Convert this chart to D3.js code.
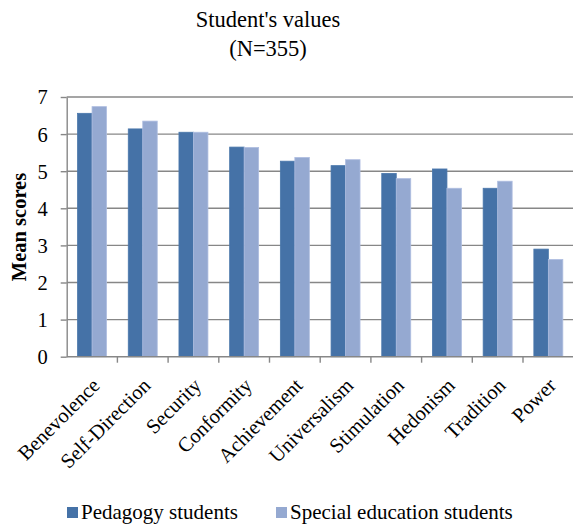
<!doctype html>
<html lang=en>
<head>
  <meta charset=utf-8>
  <title>Student's values</title>
  <style>
    html, body { margin: 0; padding: 0; background: #fff; }
    svg text { font-family: "Liberation Serif", "Times New Roman", serif; fill: #000; }
    .grid line { stroke: #878787; stroke-width: 1.4; }
    .axis path, .axis line { stroke: #878787; stroke-width: 1.4; }
    .axis text { font-size: 20.5px; }
  </style>
  <script src="https://cdn.jsdelivr.net/npm/d3@7"></script>
</head>
<body>
<svg id=chart width=573 height=525></svg>
<script>
  const categories = ['Benevolence', 'Self-Direction', 'Security', 'Conformity', 'Achievement',
    'Universalism', 'Stimulation', 'Hedonism', 'Tradition', 'Power']
  const pedagogy = [6.56, 6.14, 6.05, 5.65, 5.27, 5.15, 4.94, 5.06, 4.54, 2.90]
  const specialEducation = [6.74, 6.35, 6.05, 5.64, 5.37, 5.31, 4.80, 4.54, 4.73, 2.62]
  const seriesNames = ['Pedagogy students', 'Special education students']
  const yTicks = [0, 1, 2, 3, 4, 5, 6, 7]

  const colors = ['#4572a7', '#95a9d1']
  const plotLeft = 66.7, plotRight = 573.7, plotTop = 97, plotBottom = 356.7

  const svg = d3.select('#chart')

  const x = d3.scaleBand()
    .domain(categories)
    .range([plotLeft, plotRight])
  const inner = d3.scaleBand()
    .domain(seriesNames)
    .range([0, x.bandwidth()])
    .paddingInner(0)
    .paddingOuter(0.75)
  const y = d3.scaleLinear()
    .domain([0, 7])
    .range([plotBottom, plotTop])

  // gridlines
  svg.append('g')
    .attr('class', 'grid')
    .selectAll('line')
    .data(yTicks.slice(1))
    .enter()
    .append('line')
      .attr('x1', plotLeft)
      .attr('x2', plotRight)
      .attr('y1', d => y(d))
      .attr('y2', d => y(d))

  // bars
  const series = [pedagogy, specialEducation]
  series.forEach((values, i) => {
    svg.append('g')
      .selectAll('rect')
      .data(values)
      .enter()
      .append('rect')
        .attr('x', (d, j) => x(categories[j]) + inner(seriesNames[i]))
        .attr('width', inner.bandwidth())
        .attr('y', d => y(d))
        .attr('height', d => y(0) - y(d))
        .attr('fill', colors[i])
        .attr('stroke', i === 0 ? '#4a77ab' : '#aebde0')
        .attr('stroke-width', 0.8)
  })

  // y axis
  svg.append('g')
    .attr('class', 'axis')
    .attr('transform', 'translate(' + plotLeft + ',0)')
    .call(d3.axisLeft(y).tickValues(yTicks).tickFormat(d3.format('d')).tickSize(6).tickSizeOuter(0).tickPadding(13))
    .selectAll('text')
      .attr('dy', '0.34em')

  // x axis with ticks at category boundaries
  const gx = svg.append('g')
    .attr('class', 'axis')
    .attr('transform', 'translate(0,' + plotBottom + ')')
  gx.append('line')
    .attr('x1', plotLeft).attr('x2', plotRight)
  gx.selectAll('line.tick')
    .data(categories)
    .enter()
    .append('line')
      .attr('class', 'tick')
      .attr('x1', d => x(d) + x.bandwidth())
      .attr('x2', d => x(d) + x.bandwidth())
      .attr('y1', 0)
      .attr('y2', 6)
  gx.selectAll('text')
    .data(categories)
    .enter()
    .append('text')
      .attr('text-anchor', 'end')
      .attr('transform', d => 'translate(' + (x(d) + x.bandwidth() / 2 + 9) + ',30) rotate(-45)')
      .text(d => d)

  // y axis title
  svg.append('text')
    .attr('transform', 'translate(26,' + 227 + ') rotate(-90)')
    .attr('text-anchor', 'middle')
    .attr('font-size', 20.5)
    .attr('font-weight', 'bold')
    .text('Mean scores')

  // title
  svg.append('text')
    .attr('x', 268).attr('y', 27)
    .attr('text-anchor', 'middle')
    .attr('font-size', 22.5)
    .text("Student's values")
  svg.append('text')
    .attr('x', 268).attr('y', 56)
    .attr('text-anchor', 'middle')
    .attr('font-size', 22.5)
    .text('(N=355)')

  // legend
  const legendX = [67, 276]
  const legend = svg.append('g')
  seriesNames.forEach((name, i) => {
    legend.append('rect')
      .attr('x', legendX[i]).attr('y', 507)
      .attr('width', 11).attr('height', 11)
      .attr('fill', colors[i])
    legend.append('text')
      .attr('x', legendX[i] + 14).attr('y', 519)
      .attr('font-size', 21)
      .text(name)
  })
</script>
</body>
</html>
